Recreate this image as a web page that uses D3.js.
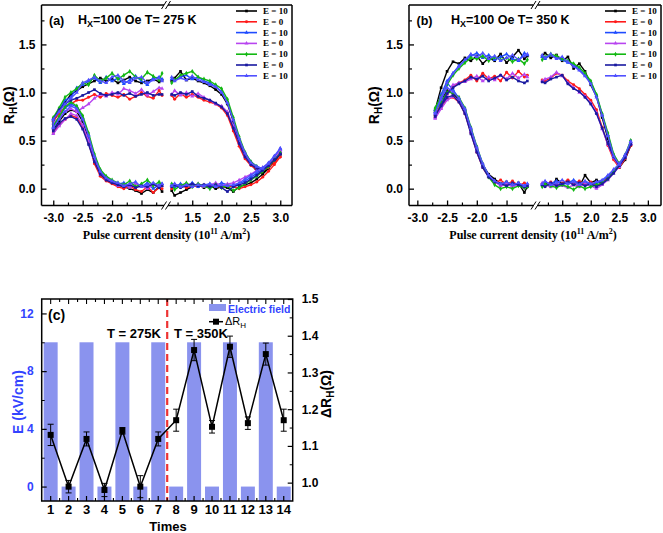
<!DOCTYPE html>
<html><head><meta charset="utf-8">
<script src="https://cdn.jsdelivr.net/npm/d3@7"></script>
<style>
body{margin:0;background:#fff;}
svg{display:block;}
</style></head><body>
<svg id="chart" width="663" height="533"></svg>
<script>
// ---------------- DATA ----------------
const seriesNames = ["E = 10","E = 0","E = 10","E = 0","E = 10","E = 0","E = 10"];
const seriesColors = ["#000000","#ff1a1a","#1f4cff","#b845f0","#12b812","#1a1aa0","#5050ff"];

// panel (a): T = 275 K
const aGridLeft  = [-3.0,-2.9,-2.8,-2.7,-2.6,-2.5,-2.4,-2.3,-2.2,-2.1,-2.0,-1.9,-1.8,-1.7,-1.6,-1.5,-1.4,-1.3,-1.2,-1.15];
const aGridRight = [1.15,1.2,1.3,1.4,1.5,1.6,1.7,1.8,1.9,2.0,2.1,2.2,2.3,2.4,2.5,2.6,2.7,2.8,2.9,3.0];
const aUpperLeft = [
 [0.70,0.80,0.90,0.98,1.02,1.06,1.09,1.12,1.15,1.12,1.14,1.10,1.13,1.16,1.12,1.10,1.12,1.14,1.11,1.13],
 [0.70,0.78,0.85,0.88,0.92,0.92,0.95,0.98,0.95,0.99,0.97,0.95,0.98,0.93,0.96,1.00,0.96,0.94,1.02,0.97],
 [0.73,0.82,0.92,0.95,1.05,1.08,1.12,1.15,1.10,1.16,1.12,1.15,1.09,1.13,1.17,1.12,1.08,1.15,1.16,1.14],
 [0.68,0.74,0.80,0.83,0.80,0.84,0.88,0.94,0.98,0.96,1.00,0.98,1.04,1.02,0.99,1.03,0.97,1.01,1.05,1.04],
 [0.74,0.84,0.95,1.00,1.04,1.10,1.08,1.18,1.12,1.15,1.20,1.14,1.18,1.22,1.16,1.14,1.21,1.17,1.13,1.20],
 [0.72,0.82,0.88,0.92,0.94,0.97,1.00,1.03,0.99,0.97,0.98,1.00,0.97,0.99,0.96,0.98,1.00,0.97,0.98,0.98],
 [0.72,0.80,0.88,0.94,1.00,1.10,1.13,1.16,1.12,1.10,1.16,1.18,1.12,1.10,1.15,1.16,1.10,1.13,1.15,1.12]
];
const aLowerLeft = [
 [0.62,0.70,0.78,0.82,0.80,0.70,0.52,0.30,0.17,0.10,0.06,0.04,0.02,0.00,-0.02,-0.05,-0.01,-0.04,0.02,-0.03],
 [0.58,0.66,0.72,0.76,0.74,0.64,0.48,0.26,0.13,0.08,0.05,0.02,0.00,0.03,-0.01,-0.03,0.02,-0.04,0.01,0.00],
 [0.64,0.74,0.84,0.88,0.85,0.74,0.56,0.34,0.18,0.12,0.08,0.05,0.06,0.03,0.05,0.02,0.06,0.00,0.04,0.05],
 [0.57,0.65,0.72,0.78,0.76,0.66,0.50,0.30,0.15,0.10,0.07,0.03,0.04,0.01,0.05,0.03,0.00,0.04,0.02,0.03],
 [0.65,0.75,0.85,0.90,0.86,0.76,0.58,0.36,0.20,0.13,0.09,0.06,0.04,0.08,0.02,0.05,0.09,0.03,0.07,0.04],
 [0.60,0.68,0.73,0.75,0.72,0.62,0.46,0.28,0.15,0.09,0.06,0.04,0.02,0.04,0.01,0.03,0.02,0.05,0.01,0.03],
 [0.63,0.72,0.80,0.86,0.83,0.72,0.55,0.33,0.18,0.11,0.08,0.06,0.03,0.05,0.07,0.02,0.04,0.06,0.03,0.05]
];
const aUpperRight = [
 [1.12,1.15,1.22,1.13,1.15,1.12,1.10,1.07,1.03,0.98,0.88,0.70,0.50,0.36,0.26,0.18,0.17,0.22,0.29,0.36],
 [0.97,0.93,0.99,0.95,0.98,0.95,0.92,0.90,0.88,0.84,0.76,0.60,0.44,0.31,0.24,0.20,0.19,0.22,0.27,0.33],
 [1.14,1.13,1.16,1.18,1.14,1.16,1.12,1.10,1.06,1.01,0.90,0.72,0.52,0.37,0.28,0.23,0.21,0.26,0.33,0.41],
 [0.98,1.02,0.97,1.00,0.96,0.99,0.95,0.92,0.88,0.86,0.80,0.65,0.48,0.34,0.26,0.22,0.21,0.25,0.31,0.39],
 [1.10,1.13,1.18,1.20,1.22,1.16,1.14,1.12,1.08,1.04,0.93,0.74,0.54,0.38,0.28,0.23,0.20,0.24,0.30,0.37],
 [0.98,0.97,1.00,0.98,1.01,0.96,0.94,0.92,0.89,0.85,0.78,0.63,0.47,0.33,0.25,0.21,0.20,0.24,0.30,0.36],
 [1.16,1.12,1.15,1.13,1.17,1.13,1.11,1.08,1.06,1.00,0.89,0.71,0.52,0.37,0.27,0.23,0.21,0.26,0.34,0.42]
];
const aLowerRight = [
 [-0.02,-0.07,-0.04,-0.01,0.02,0.04,0.01,0.03,0.00,0.02,0.01,-0.03,0.02,0.04,0.06,0.10,0.15,0.21,0.28,0.36],
 [0.00,0.02,0.04,0.01,0.03,0.02,0.04,0.02,0.03,0.01,0.03,0.02,0.00,0.02,0.04,0.07,0.12,0.18,0.25,0.33],
 [0.04,0.02,0.05,0.03,0.06,0.02,0.04,0.05,0.03,0.06,0.04,0.03,0.05,0.08,0.12,0.16,0.20,0.25,0.33,0.41],
 [0.03,0.05,0.02,0.04,0.03,0.05,0.02,0.04,0.06,0.03,0.05,0.06,0.09,0.12,0.15,0.19,0.22,0.26,0.32,0.39],
 [0.05,-0.01,0.03,0.06,0.02,0.05,0.03,0.00,0.04,0.01,0.03,-0.02,0.01,0.05,0.09,0.13,0.18,0.23,0.30,0.37],
 [0.02,0.04,0.01,0.03,0.05,0.03,0.04,0.02,0.04,0.01,-0.03,0.02,0.04,0.06,0.10,0.14,0.19,0.24,0.30,0.36],
 [0.03,0.05,0.02,0.04,0.02,0.04,0.03,0.05,0.02,0.04,0.03,0.04,0.06,0.10,0.14,0.18,0.22,0.27,0.34,0.42]
];

// panel (b): T = 350 K
const bGridLeft  = [-2.7,-2.6,-2.5,-2.4,-2.3,-2.2,-2.1,-2.0,-1.9,-1.8,-1.7,-1.6,-1.5,-1.4,-1.3,-1.2,-1.15];
const bGridRight = [1.15,1.2,1.3,1.4,1.5,1.6,1.7,1.8,1.9,2.0,2.1,2.2,2.3,2.4,2.5,2.6,2.7];
const bUpperLeft = [
 [0.82,1.05,1.22,1.32,1.30,1.36,1.33,1.38,1.30,1.36,1.33,1.40,1.31,1.37,1.44,1.35,1.38],
 [0.76,0.88,0.98,1.06,1.10,1.13,1.18,1.12,1.20,1.14,1.17,1.12,1.21,1.15,1.22,1.16,1.18],
 [0.80,0.98,1.12,1.20,1.28,1.33,1.38,1.41,1.36,1.39,1.34,1.37,1.40,1.35,1.33,1.41,1.39],
 [0.74,0.86,0.97,1.08,1.10,1.11,1.14,1.17,1.12,1.16,1.13,1.18,1.14,1.20,1.15,1.19,1.16],
 [0.84,0.96,1.08,1.18,1.25,1.31,1.36,1.35,1.38,1.33,1.37,1.34,1.36,1.32,1.35,1.30,1.34],
 [0.75,0.87,0.99,1.05,1.09,1.12,1.16,1.14,1.17,1.12,1.15,1.18,1.13,1.16,1.12,1.10,1.12],
 [0.78,0.95,1.10,1.20,1.27,1.34,1.40,1.37,1.41,1.35,1.38,1.33,1.36,1.39,1.34,1.38,1.40]
];
const bLowerLeft = [
 [0.80,0.92,1.02,0.99,0.93,0.82,0.62,0.42,0.25,0.15,0.10,0.05,0.07,0.03,0.06,-0.04,0.02],
 [0.74,0.84,0.93,0.95,0.90,0.78,0.58,0.38,0.22,0.12,0.06,0.09,0.04,0.08,0.03,0.06,0.04],
 [0.82,0.96,1.10,1.03,0.94,0.82,0.62,0.41,0.24,0.13,0.08,0.04,0.06,0.02,0.05,0.03,0.05],
 [0.73,0.83,0.92,0.96,0.91,0.79,0.59,0.39,0.23,0.13,0.07,0.03,0.05,0.02,0.04,0.01,0.03],
 [0.80,0.90,1.00,1.00,0.95,0.84,0.64,0.44,0.26,0.12,0.04,0.00,0.02,0.00,0.03,0.01,0.02],
 [0.76,0.86,0.95,0.97,0.90,0.78,0.57,0.38,0.22,0.12,0.07,0.05,0.03,0.06,0.04,0.02,0.03],
 [0.79,0.93,1.05,1.01,0.94,0.83,0.63,0.43,0.26,0.14,0.08,0.05,0.07,0.04,0.06,0.03,0.05]
];
const bUpperRight = [
 [1.38,1.41,1.36,1.39,1.33,1.37,1.25,1.30,1.22,1.08,0.96,0.74,0.52,0.32,0.22,0.30,0.45],
 [1.13,1.12,1.15,1.20,1.18,1.12,1.08,1.04,0.98,0.92,0.82,0.64,0.45,0.30,0.22,0.31,0.45],
 [1.37,1.35,1.39,1.36,1.34,1.31,1.29,1.24,1.18,1.11,0.97,0.77,0.56,0.35,0.24,0.33,0.47],
 [1.12,1.14,1.16,1.21,1.17,1.10,1.05,1.00,0.96,0.89,0.79,0.62,0.46,0.32,0.23,0.33,0.47],
 [1.34,1.37,1.40,1.38,1.35,1.33,1.30,1.26,1.20,1.12,0.98,0.78,0.58,0.36,0.26,0.34,0.50],
 [1.11,1.10,1.14,1.16,1.18,1.09,1.04,1.01,0.95,0.88,0.78,0.63,0.47,0.33,0.24,0.32,0.46],
 [1.39,1.36,1.40,1.35,1.37,1.32,1.27,1.23,1.17,1.09,0.95,0.76,0.55,0.34,0.25,0.35,0.49]
];
const bLowerRight = [
 [0.03,0.06,0.02,0.10,0.05,0.08,0.04,0.02,0.14,0.06,0.09,0.05,0.12,0.18,0.25,0.33,0.45],
 [0.05,0.03,0.07,0.04,0.06,0.09,0.05,0.08,0.04,0.07,0.03,0.06,0.11,0.17,0.24,0.32,0.45],
 [0.04,0.07,0.05,0.08,0.04,0.06,0.09,0.05,0.07,0.04,0.06,0.08,0.13,0.19,0.25,0.34,0.47],
 [0.06,0.04,0.02,0.05,0.03,0.01,0.04,0.02,0.05,0.03,0.00,0.04,0.09,0.16,0.23,0.33,0.47],
 [0.02,0.05,0.03,0.01,0.04,0.02,-0.01,0.03,0.00,0.02,0.04,0.06,0.10,0.17,0.26,0.35,0.50],
 [0.04,0.02,0.06,0.03,0.05,0.07,0.04,0.06,0.03,0.05,0.02,0.05,0.10,0.16,0.24,0.33,0.46],
 [0.05,0.08,0.04,0.06,0.09,0.05,0.07,0.04,0.08,0.05,0.07,0.09,0.14,0.20,0.26,0.35,0.49]
];

// tick values for loop panels
const xTicksLeftMajor  = [-3.0,-2.5,-2.0,-1.5];
const xTicksLeftMinor  = [-2.75,-2.25,-1.75,-1.25];
const xTicksRightMajor = [1.5,2.0,2.5,3.0];
const xTicksRightMinor = [1.25,1.75,2.25,2.75];
const yTicksMajor = [0.0,0.5,1.0,1.5];
const yTicksMinor = [0.25,0.75,1.25,1.75];

// panel (c)
const times = [1,2,3,4,5,6,7,8,9,10,11,12,13,14];
const eField = [10,0,10,0,10,0,10,0,10,0,10,0,10,0];
const deltaRH = [1.130,0.989,1.119,0.980,1.141,0.989,1.119,1.170,1.361,1.152,1.370,1.162,1.350,1.170];
const deltaRHerr = [0.029,0.017,0.019,0.018,0.009,0.030,0.019,0.030,0.029,0.017,0.029,0.017,0.030,0.030];
const cLeftTicks = [0,4,8,12];
const cLeftMinor = [2,6,10];
const cRightTicks = [1.0,1.1,1.2,1.3,1.4,1.5];
const cRightMinor = [1.05,1.15,1.25,1.35,1.45];

// ---------------- DRAW ----------------
const SANS = "'Liberation Sans', Arial, Helvetica, sans-serif";
const SERIF = "'Liberation Serif', 'Times New Roman', serif";
const svg = d3.select("#chart");
const symbols = [d3.symbolSquare, d3.symbolCircle, d3.symbolTriangle, d3.symbolTriangle, d3.symbolDiamond, d3.symbolSquare, d3.symbolTriangle];

function loopPanel(o) {
  const g = svg.append("g");
  const y = o.y;
  for (let s = 0; s < 7; s++) {
    const leftPts = o.gridL.map((x, i) => [x, o.upL[s][i]]).reverse()
      .concat(o.gridL.map((x, i) => [x, o.loL[s][i]]));
    const rightPts = o.gridR.map((x, i) => [x, o.loR[s][i]])
      .concat(o.gridR.map((x, i) => [x, o.upR[s][i]]).reverse());
    const segs = [[leftPts, o.xL], [rightPts, o.xR]];
    segs.forEach(([pts, xs]) => {
      const line = d3.line().x(d => xs(d[0])).y(d => y(d[1]));
      g.append("path").attr("d", line(pts)).attr("fill", "none")
        .attr("stroke", seriesColors[s]).attr("stroke-width", 1.4).attr("stroke-linejoin", "round");
      g.selectAll(null).data(pts).enter().append("path")
        .attr("d", d3.symbol(symbols[s], 7))
        .attr("transform", d => `translate(${xs(d[0])},${y(d[1])})`)
        .attr("fill", seriesColors[s]);
    });
  }
  // frame
  const fr = g.append("g").attr("stroke", "#000").attr("stroke-width", 1.5).attr("fill", "none");
  const [y0, y1] = [y.range()[1], y.range()[0]];
  const bx = (o.xL.range()[1] + o.xR.range()[0]) / 2;
  fr.append("line").attr("x1", o.x0).attr("x2", o.x0).attr("y1", y0).attr("y2", y1);
  fr.append("line").attr("x1", o.x1).attr("x2", o.x1).attr("y1", y0).attr("y2", y1);
  [y0, y1].forEach(yy => {
    fr.append("line").attr("x1", o.x0).attr("x2", bx - 2).attr("y1", yy).attr("y2", yy);
    fr.append("line").attr("x1", bx + 2).attr("x2", o.x1).attr("y1", yy).attr("y2", yy);
    [-2, 2].forEach(off => {
      fr.append("line").attr("stroke-width", 1)
        .attr("x1", bx + off - 2.5).attr("y1", yy + 4).attr("x2", bx + off + 2.5).attr("y2", yy - 4);
    });
  });
  // x axes
  const fmt = d => d.toFixed(1);
  [[o.xL, xTicksLeftMajor, xTicksLeftMinor], [o.xR, xTicksRightMajor, xTicksRightMinor]].forEach(([xs, maj, min]) => {
    const ax = g.append("g").attr("transform", `translate(0,${y1})`)
      .call(d3.axisBottom(xs).tickValues(maj).tickSize(-5).tickPadding(8).tickFormat(fmt));
    ax.select(".domain").remove();
    ax.selectAll("line").attr("stroke-width", 1.3);
    ax.selectAll("text").attr("font-family", SANS).attr("font-weight", "bold").attr("font-size", 12).attr("fill", "#000");
    const axm = g.append("g").attr("transform", `translate(0,${y1})`)
      .call(d3.axisBottom(xs).tickValues(min).tickSize(-3).tickFormat(""));
    axm.select(".domain").remove();
    axm.selectAll("line").attr("stroke-width", 1.2);
  });
  // y axis
  const yx = g.append("g").attr("transform", `translate(${o.x0},0)`)
    .call(d3.axisLeft(y).tickValues(yTicksMajor).tickSize(-5).tickPadding(6).tickFormat(fmt));
  yx.select(".domain").remove();
  yx.selectAll("line").attr("stroke-width", 1.3);
  yx.selectAll("text").attr("font-family", SANS).attr("font-weight", "bold").attr("font-size", 12).attr("fill", "#000");
  const yxm = g.append("g").attr("transform", `translate(${o.x0},0)`)
    .call(d3.axisLeft(y).tickValues(yTicksMinor).tickSize(-3).tickFormat(""));
  yxm.select(".domain").remove();
  yxm.selectAll("line").attr("stroke-width", 1.2);
  // y label
  const yl = g.append("text").attr("transform", `translate(${o.yLabelX},${(y0 + y1) / 2}) rotate(-90)`)
    .attr("text-anchor", "middle").attr("font-family", SANS).attr("font-weight", "bold").attr("font-size", 14);
  yl.append("tspan").text("R");
  yl.append("tspan").attr("dy", 3).attr("font-size", 10).text("H");
  yl.append("tspan").attr("dy", -3).text("(Ω)");
  // x label
  const xl = g.append("text").attr("x", o.xLabelX).attr("y", 239).attr("text-anchor", "middle")
    .attr("font-family", SERIF).attr("font-weight", "bold").attr("font-size", 12);
  xl.append("tspan").text("Pulse current density (10");
  xl.append("tspan").attr("dy", -5).attr("font-size", 8).text("11");
  xl.append("tspan").attr("dy", 5).text(" A/m");
  xl.append("tspan").attr("dy", -5).attr("font-size", 8).text("2");
  xl.append("tspan").attr("dy", 5).text(")");
  // title
  g.append("text").attr("x", o.x0 + 7.5).attr("y", 25).attr("font-family", SANS).attr("font-weight", "bold")
    .attr("font-size", 12.5).text(o.tag);
  const t = g.append("text").attr("x", o.titleX).attr("y", 24).attr("font-family", SANS).attr("font-weight", "bold").attr("font-size", 12.5);
  t.append("tspan").text("H");
  t.append("tspan").attr("dy", 3).attr("font-size", 9).text("X");
  t.append("tspan").attr("dy", -3).text("=100 Oe T= " + o.temp);
  // legend
  seriesNames.forEach((nm, s) => {
    const ly = 11 + s * 10.8;
    g.append("line").attr("x1", o.x1 - 56).attr("x2", o.x1 - 35).attr("y1", ly).attr("y2", ly)
      .attr("stroke", seriesColors[s]).attr("stroke-width", 1.6);
    g.append("path").attr("d", d3.symbol(symbols[s], 7)).attr("transform", `translate(${o.x1 - 45.5},${ly})`).attr("fill", seriesColors[s]);
    g.append("text").attr("x", o.x1 - 29).attr("y", ly + 3).attr("font-family", SERIF).attr("font-weight", "bold")
      .attr("font-size", 9).text(nm);
  });
}

const yLoop = d3.scaleLinear([-0.175, 1.91], [205.5, 5]);
loopPanel({
  x0: 41.5, x1: 292, y: yLoop,
  xL: d3.scaleLinear([-3.2, -1.1], [41.5, 165]),
  xR: d3.scaleLinear([1.07, 3.2], [167, 292]),
  gridL: aGridLeft, gridR: aGridRight,
  upL: aUpperLeft, loL: aLowerLeft, upR: aUpperRight, loR: aLowerRight,
  yLabelX: 14, xLabelX: 166.5, tag: "(a)", titleX: 78, temp: "275 K"
});
loopPanel({
  x0: 409, x1: 661, y: yLoop,
  xL: d3.scaleLinear([-3.14, -1.03], [409, 534.5]),
  xR: d3.scaleLinear([1.05, 3.23], [536.5, 661]),
  gridL: bGridLeft, gridR: bGridRight,
  upL: bUpperLeft, loL: bLowerLeft, upR: bUpperRight, loR: bLowerRight,
  yLabelX: 379, xLabelX: 533, tag: "(b)", titleX: 451, temp: "350 K"
});

// ---------- panel (c) ----------
(function () {
  const BLUE = "#3344ff", BAR = "#8a93ee";
  const x0 = 41.7, x1 = 292.7, yTop = 299, yBot = 501;
  const g = svg.append("g");
  const cx = d3.scaleBand(times, [x0, x1]).paddingInner(0.22).paddingOuter(0.11);
  const bw = cx.bandwidth();
  const cxc = d => cx(d) + bw / 2;
  const yL = d3.scaleLinear([-1, 13], [yBot, yTop]);
  const yR = d3.scaleLinear([0.95, 1.5], [yBot, yTop]);
  // bars
  g.selectAll(null).data(times).enter().append("rect")
    .attr("x", d => cx(d)).attr("width", bw)
    .attr("y", (d, i) => yL(eField[i])).attr("height", (d, i) => yL(-1) - yL(eField[i]))
    .attr("fill", BAR);
  // dashed separator between 7 and 8
  const sepX = (cxc(7) + cxc(8)) / 2;
  g.append("line").attr("x1", sepX).attr("x2", sepX).attr("y1", yTop).attr("y2", yBot)
    .attr("stroke", "#ee3333").attr("stroke-width", 2.2).attr("stroke-dasharray", "7,4");
  // line
  const line = d3.line().x((d, i) => cxc(times[i])).y(d => yR(d));
  g.append("path").attr("d", line(deltaRH)).attr("fill", "none").attr("stroke", "#000").attr("stroke-width", 1.5);
  // error bars
  const eb = g.append("g").attr("stroke", "#000").attr("stroke-width", 1);
  times.forEach((t, i) => {
    const xx = cxc(t), hi = yR(deltaRH[i] + deltaRHerr[i]), lo = yR(deltaRH[i] - deltaRHerr[i]);
    eb.append("line").attr("x1", xx).attr("x2", xx).attr("y1", hi).attr("y2", lo);
    eb.append("line").attr("x1", xx - 3).attr("x2", xx + 3).attr("y1", hi).attr("y2", hi);
    eb.append("line").attr("x1", xx - 3).attr("x2", xx + 3).attr("y1", lo).attr("y2", lo);
  });
  g.selectAll(null).data(deltaRH).enter().append("rect")
    .attr("x", (d, i) => cxc(times[i]) - 3).attr("y", d => yR(d) - 3).attr("width", 6).attr("height", 6).attr("fill", "#000");
  // frame
  g.append("rect").attr("x", x0).attr("y", yTop).attr("width", x1 - x0).attr("height", yBot - yTop)
    .attr("fill", "none").attr("stroke", "#000").attr("stroke-width", 1.5);
  // bottom axis
  const bx = g.append("g").attr("transform", `translate(0,${yBot})`)
    .call(d3.axisBottom(cx).tickSize(-5).tickPadding(4));
  bx.select(".domain").remove();
  bx.selectAll("line").attr("stroke-width", 1.2);
  bx.selectAll("text").attr("font-family", SANS).attr("font-weight", "bold").attr("font-size", 13).attr("fill", "#000");
  const mids = times.slice(0, -1).map((t, i) => (cxc(t) + cxc(times[i + 1])) / 2);
  const mk = g.append("g").attr("stroke", "#000").attr("stroke-width", 1.1);
  mids.forEach(m => {
    mk.append("line").attr("x1", m).attr("x2", m).attr("y1", yBot).attr("y2", yBot - 3);
    mk.append("line").attr("x1", m).attr("x2", m).attr("y1", yTop).attr("y2", yTop + 3);
  });
  times.forEach(t => {
    mk.append("line").attr("x1", cxc(t)).attr("x2", cxc(t)).attr("y1", yTop).attr("y2", yTop + 5);
  });
  // left axis
  const lx = g.append("g").attr("transform", `translate(${x0},0)`)
    .call(d3.axisLeft(yL).tickValues(cLeftTicks).tickSize(-5).tickPadding(8));
  lx.select(".domain").remove();
  lx.selectAll("line").attr("stroke-width", 1.2);
  lx.selectAll("text").attr("font-family", SANS).attr("font-weight", "bold").attr("font-size", 12).attr("fill", BLUE);
  const lxm = g.append("g").attr("transform", `translate(${x0},0)`)
    .call(d3.axisLeft(yL).tickValues(cLeftMinor).tickSize(-3).tickFormat(""));
  lxm.select(".domain").remove();
  // right axis
  const rx = g.append("g").attr("transform", `translate(${x1},0)`)
    .call(d3.axisRight(yR).tickValues(cRightTicks).tickSize(-5).tickPadding(9).tickFormat(d => d.toFixed(1)));
  rx.select(".domain").remove();
  rx.selectAll("line").attr("stroke-width", 1.2);
  rx.selectAll("text").attr("font-family", SANS).attr("font-weight", "bold").attr("font-size", 12).attr("fill", "#000");
  const rxm = g.append("g").attr("transform", `translate(${x1},0)`)
    .call(d3.axisRight(yR).tickValues(cRightMinor).tickSize(-3).tickFormat(""));
  rxm.select(".domain").remove();
  // labels
  g.append("text").attr("x", 168).attr("y", 531).attr("text-anchor", "middle").attr("font-family", SANS)
    .attr("font-weight", "bold").attr("font-size", 13).text("Times");
  g.append("text").attr("transform", `translate(22.5,402) rotate(-90)`).attr("text-anchor", "middle")
    .attr("font-family", SANS).attr("font-weight", "bold").attr("font-size", 14).attr("fill", BLUE).text("E (kV/cm)");
  const rl = g.append("text").attr("transform", `translate(331,394) rotate(-90)`).attr("text-anchor", "middle")
    .attr("font-family", SANS).attr("font-weight", "bold").attr("font-size", 14);
  rl.append("tspan").text("ΔR");
  rl.append("tspan").attr("dy", 3).attr("font-size", 10).text("H");
  rl.append("tspan").attr("dy", -3).text("(Ω)");
  g.append("text").attr("x", 48).attr("y", 320).attr("font-family", SANS).attr("font-weight", "bold")
    .attr("font-size", 14).text("(c)");
  g.append("text").attr("x", 107).attr("y", 338).attr("font-family", SANS).attr("font-weight", "bold")
    .attr("font-size", 13).text("T = 275K");
  g.append("text").attr("x", 174).attr("y", 338).attr("font-family", SANS).attr("font-weight", "bold")
    .attr("font-size", 13).text("T = 350K");
  // legend
  g.append("rect").attr("x", 209).attr("y", 304).attr("width", 17).attr("height", 7).attr("fill", BAR);
  g.append("text").attr("x", 228).attr("y", 312.5).attr("font-family", SANS).attr("font-weight", "bold")
    .attr("font-size", 10.5).attr("fill", BLUE).text("Electric field");
  g.append("line").attr("x1", 209).attr("x2", 223).attr("y1", 321.7).attr("y2", 321.7).attr("stroke", "#000").attr("stroke-width", 1.5);
  g.append("rect").attr("x", 213).attr("y", 318.7).attr("width", 6).attr("height", 6).attr("fill", "#000");
  const lg = g.append("text").attr("x", 225).attr("y", 325).attr("font-family", SANS).attr("font-size", 11);
  lg.append("tspan").text("ΔR");
  lg.append("tspan").attr("dy", 3).attr("font-size", 8).text("H");
})();
</script>
</body></html>
